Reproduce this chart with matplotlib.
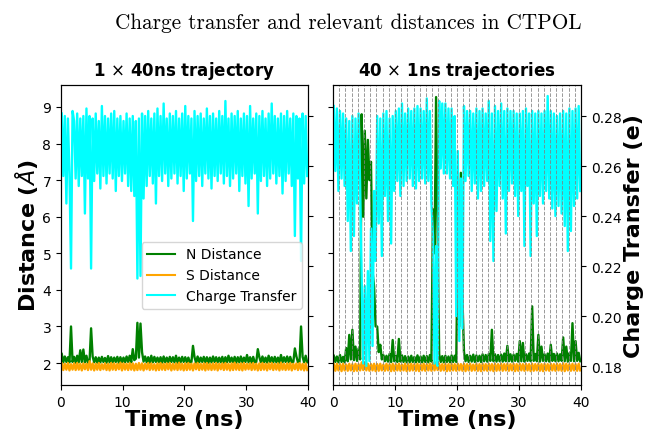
import numpy as np
import matplotlib
matplotlib.use("Agg")
import matplotlib.pyplot as plt

# time grid: 0.25 ns samples
t = np.arange(0, 40, 0.25) + 0.125

# ---- 1 x 40 ns trajectory ----
ct_long = [
    0.281, 0.256, 0.280, 0.245, 0.279, 0.257, 0.219, 0.282, 0.278, 0.255, 0.281, 0.252, 0.279, 0.256, 0.280, 0.241,
    0.283, 0.255, 0.280, 0.219, 0.279, 0.254, 0.281, 0.257, 0.278, 0.251, 0.284, 0.256, 0.280, 0.253, 0.279, 0.257,
    0.281, 0.255, 0.282, 0.250, 0.279, 0.256, 0.280, 0.254, 0.278, 0.257, 0.281, 0.252, 0.279, 0.250, 0.280, 0.248,
    0.278, 0.215, 0.279, 0.216, 0.281, 0.247, 0.280, 0.252, 0.282, 0.256, 0.279, 0.253, 0.281, 0.245, 0.283, 0.256,
    0.280, 0.254, 0.285, 0.257, 0.279, 0.252, 0.281, 0.255, 0.280, 0.257, 0.282, 0.253, 0.279, 0.256, 0.281, 0.250,
    0.284, 0.255, 0.280, 0.257, 0.279, 0.238, 0.282, 0.254, 0.280, 0.256, 0.281, 0.252, 0.279, 0.257, 0.283, 0.255,
    0.280, 0.251, 0.281, 0.256, 0.279, 0.254, 0.282, 0.257, 0.280, 0.253, 0.286, 0.256, 0.279, 0.252, 0.281, 0.255,
    0.280, 0.257, 0.282, 0.250, 0.279, 0.256, 0.281, 0.253, 0.280, 0.244, 0.284, 0.255, 0.279, 0.257, 0.281, 0.241,
    0.280, 0.254, 0.282, 0.256, 0.279, 0.252, 0.281, 0.255, 0.285, 0.257, 0.280, 0.253, 0.279, 0.256, 0.281, 0.249,
    0.280, 0.254, 0.282, 0.257, 0.279, 0.252, 0.281, 0.232, 0.280, 0.255, 0.279, 0.222, 0.281, 0.253, 0.280, 0.256,
]
n_long = [
    2.25, 2.02, 2.18, 2.03, 2.16, 2.02, 3.00, 2.03, 2.17, 2.01, 2.20, 2.02, 2.35, 2.03, 2.37, 2.02,
    2.20, 2.01, 2.05, 2.95, 2.18, 2.02, 2.16, 2.01, 2.15, 2.02, 2.17, 2.03, 2.14, 2.01, 2.19, 2.02,
    2.16, 2.02, 2.15, 2.03, 2.17, 2.01, 2.16, 2.02, 2.15, 2.02, 2.18, 2.03, 2.20, 2.02, 2.38, 2.08,
    2.12, 3.10, 2.15, 3.08, 2.30, 2.04, 2.18, 2.02, 2.16, 2.01, 2.20, 2.02, 2.17, 2.03, 2.15, 2.02,
    2.16, 2.01, 2.18, 2.02, 2.15, 2.02, 2.17, 2.03, 2.16, 2.02, 2.20, 2.01, 2.15, 2.02, 2.17, 2.03,
    2.16, 2.02, 2.15, 2.02, 2.03, 2.47, 2.16, 2.01, 2.18, 2.02, 2.15, 2.03, 2.17, 2.02, 2.16, 2.01,
    2.15, 2.02, 2.18, 2.03, 2.16, 2.02, 2.15, 2.02, 2.17, 2.01, 2.16, 2.02, 2.20, 2.03, 2.15, 2.02,
    2.17, 2.01, 2.16, 2.02, 2.18, 2.02, 2.15, 2.03, 2.22, 2.02, 2.16, 2.01, 2.17, 2.02, 2.03, 2.38,
    2.16, 2.02, 2.18, 2.02, 2.15, 2.01, 2.20, 2.03, 2.16, 2.02, 2.17, 2.02, 2.15, 2.01, 2.22, 2.02,
    2.16, 2.03, 2.18, 2.02, 2.17, 2.02, 2.03, 2.40, 2.18, 2.02, 2.03, 3.00, 2.17, 2.02, 2.20, 2.02,
]
s_long = [
    1.99, 1.81, 1.98, 1.82, 2.00, 1.80, 1.97, 1.82, 1.99, 1.81, 2.00, 1.82, 1.98, 1.80, 1.99, 1.83,
    1.98, 1.81, 2.05, 1.82, 1.99, 1.80, 1.98, 1.82, 2.00, 1.81, 1.97, 1.83, 1.99, 1.81, 1.98, 1.80,
    2.00, 1.82, 1.99, 1.81, 1.98, 1.83, 2.01, 1.80, 1.99, 1.82, 1.98, 1.81, 2.00, 1.82, 1.99, 1.80,
    1.98, 1.81, 2.00, 1.82, 1.99, 1.80, 1.98, 1.83, 2.00, 1.81, 1.99, 1.82, 1.97, 1.80, 1.99, 1.81,
    2.00, 1.82, 1.98, 1.81, 1.99, 1.83, 2.00, 1.80, 1.98, 1.82, 1.99, 1.81, 2.01, 1.82, 1.98, 1.80,
    1.99, 1.81, 2.00, 1.82, 1.98, 1.80, 1.99, 1.83, 2.00, 1.81, 1.98, 1.82, 1.99, 1.80, 2.00, 1.82,
    1.98, 1.81, 1.99, 1.82, 2.00, 1.80, 1.98, 1.83, 1.99, 1.81, 2.00, 1.82, 1.98, 1.80, 1.99, 1.81,
    2.01, 1.82, 1.98, 1.81, 1.99, 1.80, 2.00, 1.82, 1.98, 1.83, 1.99, 1.81, 2.00, 1.82, 1.98, 1.80,
    1.99, 1.81, 2.00, 1.82, 1.98, 1.80, 1.99, 1.83, 2.00, 1.81, 1.98, 1.82, 1.99, 1.80, 2.01, 1.82,
    1.98, 1.81, 1.99, 1.82, 2.00, 1.80, 1.98, 1.83, 1.99, 1.81, 2.00, 1.82, 1.98, 1.80, 1.99, 1.81,
]

# ---- 40 x 1 ns trajectories (concatenated) ----
ct_short = [
    0.284, 0.258, 0.283, 0.250, 0.282, 0.255, 0.281, 0.252, 0.279, 0.238, 0.278, 0.226, 0.280, 0.232, 0.279, 0.245,
    0.281, 0.252, 0.215, 0.181, 0.212, 0.180, 0.218, 0.182, 0.235, 0.188, 0.250, 0.222, 0.280, 0.237, 0.279, 0.224,
    0.281, 0.248, 0.282, 0.238, 0.279, 0.229, 0.280, 0.250, 0.282, 0.254, 0.283, 0.248, 0.285, 0.252, 0.281, 0.254,
    0.283, 0.255, 0.282, 0.252, 0.283, 0.251, 0.284, 0.254, 0.283, 0.255, 0.282, 0.253, 0.287, 0.254, 0.282, 0.245,
    0.232, 0.181, 0.228, 0.180, 0.286, 0.259, 0.285, 0.257, 0.285, 0.257, 0.283, 0.255, 0.283, 0.252, 0.280, 0.200,
    0.266, 0.190, 0.255, 0.195, 0.284, 0.254, 0.282, 0.256, 0.282, 0.250, 0.281, 0.253, 0.283, 0.247, 0.282, 0.250,
    0.283, 0.252, 0.281, 0.254, 0.286, 0.230, 0.281, 0.222, 0.284, 0.242, 0.282, 0.252, 0.285, 0.247, 0.282, 0.233,
    0.283, 0.250, 0.282, 0.253, 0.282, 0.248, 0.281, 0.240, 0.281, 0.250, 0.282, 0.228, 0.283, 0.252, 0.281, 0.224,
    0.282, 0.245, 0.281, 0.232, 0.282, 0.248, 0.281, 0.245, 0.282, 0.250, 0.288, 0.247, 0.282, 0.243, 0.281, 0.240,
    0.280, 0.244, 0.281, 0.241, 0.282, 0.236, 0.281, 0.226, 0.283, 0.234, 0.282, 0.244, 0.283, 0.247, 0.284, 0.250,
]
n_short = [
    2.20, 2.03, 2.18, 2.02, 2.22, 2.03, 2.17, 2.02, 2.41, 2.05, 2.77, 2.10, 2.91, 2.08, 2.45, 2.06,
    2.40, 2.10, 8.80, 6.00, 8.35, 6.50, 8.10, 7.00, 7.50, 4.50, 4.10, 3.00, 3.00, 2.30, 2.50, 2.10,
    2.22, 2.05, 2.20, 2.04, 2.25, 2.03, 2.63, 2.05, 2.20, 2.03, 2.66, 2.04, 2.21, 2.03, 2.19, 2.02,
    2.18, 2.02, 2.20, 2.03, 2.17, 2.02, 2.21, 2.03, 2.18, 2.02, 2.20, 2.03, 2.19, 2.02, 2.22, 2.04,
    6.20, 5.00, 9.27, 5.50, 2.24, 2.03, 2.19, 2.02, 2.20, 2.03, 2.18, 2.02, 2.21, 2.03, 2.20, 2.03,
    5.50, 3.00, 7.20, 3.80, 2.30, 2.05, 2.22, 2.03, 2.20, 2.04, 2.23, 2.03, 2.21, 2.05, 2.20, 2.03,
    2.24, 2.05, 2.22, 2.04, 2.25, 2.06, 2.91, 2.05, 2.24, 2.04, 2.22, 2.05, 2.23, 2.04, 2.26, 2.05,
    2.47, 2.05, 2.24, 2.04, 2.23, 2.06, 2.25, 2.04, 2.60, 2.05, 2.55, 2.04, 2.24, 2.06, 2.26, 2.05,
    3.55, 2.06, 2.25, 2.05, 2.77, 2.04, 2.45, 2.06, 2.24, 2.05, 2.26, 2.04, 2.50, 2.06, 2.25, 2.05,
    2.26, 2.05, 2.24, 2.06, 2.70, 2.05, 2.45, 2.04, 2.27, 2.06, 3.09, 2.05, 2.60, 2.06, 2.28, 2.05,
]
s_short = [
    1.97, 1.79, 1.98, 1.80, 1.97, 1.78, 1.98, 1.80, 1.96, 1.79, 1.98, 1.80, 1.97, 1.78, 1.98, 1.79,
    1.97, 1.80, 2.02, 1.81, 2.01, 1.80, 1.98, 1.79, 1.97, 1.80, 1.98, 1.78, 1.97, 1.79, 1.98, 1.80,
    1.96, 1.79, 1.98, 1.80, 1.97, 1.78, 1.98, 1.79, 1.97, 1.80, 1.98, 1.79, 1.96, 1.80, 1.98, 1.78,
    1.97, 1.79, 1.98, 1.80, 1.97, 1.79, 1.98, 1.78, 1.97, 1.80, 1.98, 1.79, 1.97, 1.80, 1.98, 1.79,
    2.01, 1.80, 2.02, 1.81, 1.98, 1.79, 1.97, 1.80, 1.98, 1.78, 1.97, 1.79, 1.98, 1.80, 1.97, 1.79,
    1.98, 1.80, 1.97, 1.79, 1.98, 1.78, 1.97, 1.80, 1.98, 1.79, 1.96, 1.80, 1.98, 1.79, 1.97, 1.78,
    1.98, 1.80, 1.97, 1.79, 1.98, 1.80, 1.97, 1.78, 1.98, 1.79, 1.97, 1.80, 1.98, 1.79, 1.97, 1.80,
    1.98, 1.79, 1.97, 1.80, 1.98, 1.78, 1.97, 1.79, 1.98, 1.80, 1.97, 1.79, 1.98, 1.80, 1.97, 1.78,
    1.98, 1.79, 1.97, 1.80, 1.98, 1.79, 1.97, 1.78, 1.98, 1.80, 1.97, 1.79, 1.98, 1.80, 1.97, 1.79,
    1.98, 1.80, 1.97, 1.79, 1.99, 1.78, 1.98, 1.80, 1.97, 1.79, 1.98, 1.80, 1.97, 1.79, 1.98, 1.80,
]

dist_lim = (1.4, 9.6)
ct_lim = (0.1724, 0.2924)
ct_ticks = [0.18, 0.20, 0.22, 0.24, 0.26, 0.28]
LW = 1.7

fig = plt.figure(figsize=(6.48, 4.35), dpi=100)
ax1 = fig.add_axes([0.0941, 0.1126, 0.3812, 0.6897])
ax2 = fig.add_axes([0.5139, 0.1126, 0.3827, 0.6897], sharey=ax1)

fig.suptitle('Charge transfer and relevant distances in CTPOL',
             fontfamily='cmr10', fontsize=15.3, x=0.537, y=0.97)

panels = [
    (ax1, n_long, s_long, ct_long, r'1 $\times$ 40ns trajectory'),
    (ax2, n_short, s_short, ct_short, r'40 $\times$ 1ns trajectories'),
]

twins = []
for ax, n_d, s_d, ct, title in panels:
    ln_n, = ax.plot(t, n_d, color='green', lw=LW, label='N Distance')
    ln_s, = ax.plot(t, s_d, color='orange', lw=LW, label='S Distance')
    axt = ax.twinx()
    ln_c, = axt.plot(t, ct, color='cyan', lw=LW, label='Charge Transfer')
    axt.set_ylim(*ct_lim)
    axt.set_yticks(ct_ticks)
    ax.set_xlim(0, 40)
    ax.set_xticks([0, 10, 20, 30, 40])
    ax.set_ylim(*dist_lim)
    ax.set_yticks(range(2, 10))
    ax.set_title(title, fontsize=12, fontweight='bold', pad=7)
    ax.set_xlabel('Time (ns)', fontsize=16, fontweight='bold', labelpad=0)
    ax.tick_params(labelsize=10)
    axt.tick_params(labelsize=10)
    twins.append((axt, [ln_n, ln_s, ln_c]))

# left panel: twin ticks without labels, legend
axt1, handles = twins[0]
axt1.tick_params(labelright=False)
leg = axt1.legend(handles, [h.get_label() for h in handles], loc='upper right',
                  bbox_to_anchor=(0.976, 0.477), borderaxespad=0, fontsize=10)
for h in leg.get_lines():
    h.set_linewidth(1.5)
ax1.set_ylabel(r'Distance ($\AA$)', fontsize=16, fontweight='bold', labelpad=2)

# right panel: shared distance axis, charge transfer labels on the right
axt2, _ = twins[1]
ax2.tick_params(labelleft=False)
axt2.set_ylabel('Charge Transfer (e)', fontsize=16, fontweight='bold', labelpad=2)
for k in range(1, 40):
    axt2.axvline(k, color='grey', ls='--', lw=0.7, alpha=0.8)

fig.savefig('out.png', dpi=100)
